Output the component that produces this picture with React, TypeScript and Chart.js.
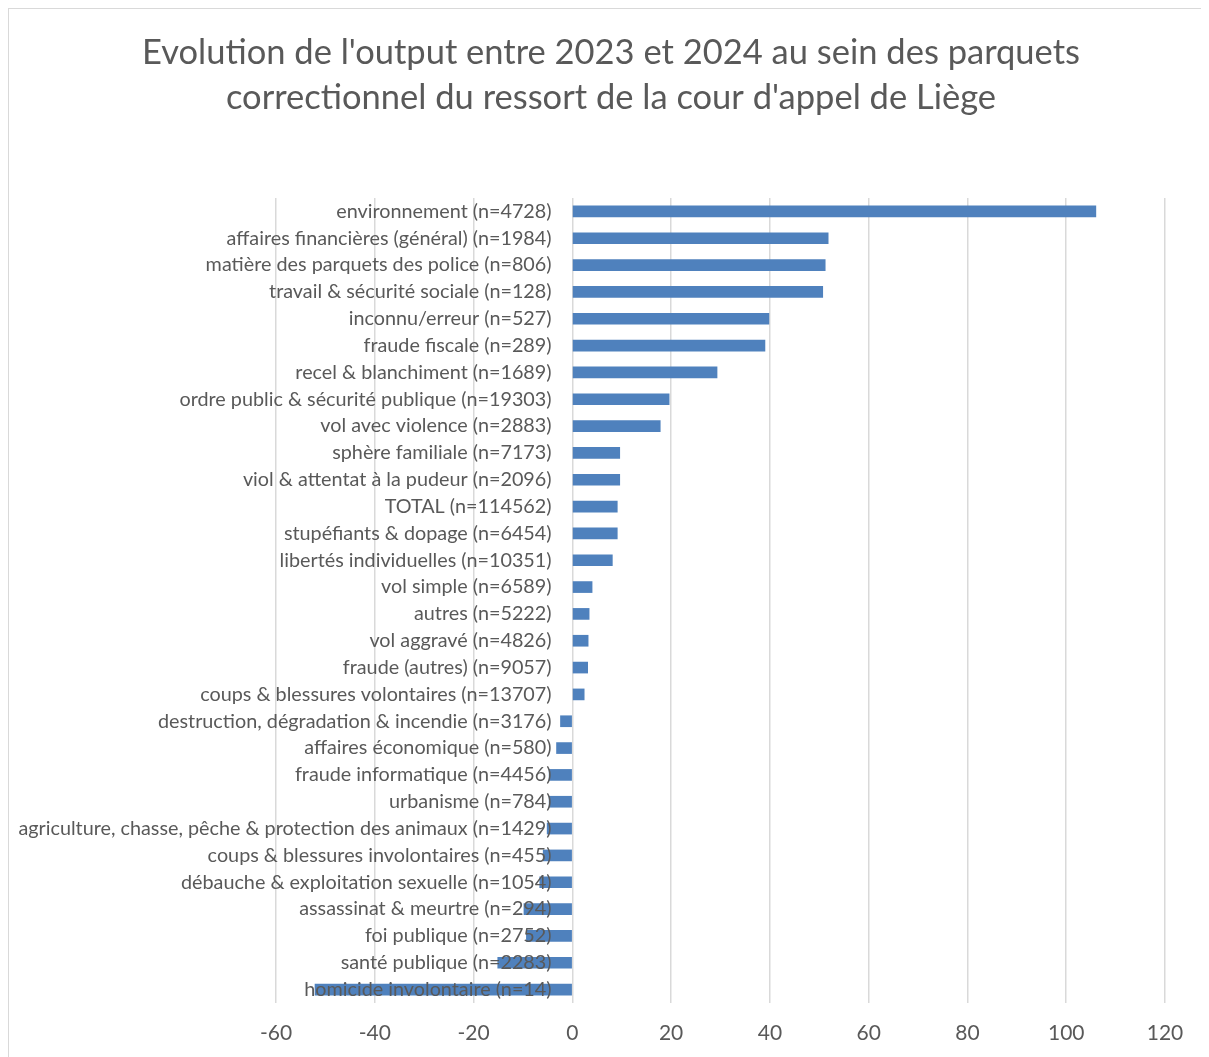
import React, { useEffect, useRef } from "react";
import { Chart, registerables } from "chart.js";

Chart.register(...registerables);

const titleLines = [
  "Evolution de l'output entre 2023 et 2024 au sein des parquets",
  "correctionnel du ressort de la cour d'appel de Liège",
];

const categories = [
  "environnement (n=4728)",
  "affaires financières (général) (n=1984)",
  "matière des parquets des police (n=806)",
  "travail & sécurité sociale (n=128)",
  "inconnu/erreur (n=527)",
  "fraude fiscale (n=289)",
  "recel & blanchiment (n=1689)",
  "ordre public & sécurité publique (n=19303)",
  "vol avec violence (n=2883)",
  "sphère familiale (n=7173)",
  "viol & attentat à la pudeur (n=2096)",
  "TOTAL (n=114562)",
  "stupéfiants & dopage (n=6454)",
  "libertés individuelles (n=10351)",
  "vol simple (n=6589)",
  "autres (n=5222)",
  "vol aggravé (n=4826)",
  "fraude (autres) (n=9057)",
  "coups & blessures volontaires (n=13707)",
  "destruction, dégradation & incendie (n=3176)",
  "affaires économique (n=580)",
  "fraude informatique (n=4456)",
  "urbanisme (n=784)",
  "agriculture, chasse, pêche & protection des animaux (n=1429)",
  "coups & blessures involontaires (n=455)",
  "débauche & exploitation sexuelle (n=1054)",
  "assassinat & meurtre (n=294)",
  "foi publique (n=2752)",
  "santé publique (n=2283)",
  "homicide involontaire (n=14)",
];

const evolution = [
  106.0, 51.8, 51.2, 50.7, 39.8, 39.0, 29.3, 19.6, 17.8, 9.6, 9.6, 9.1, 9.1,
  8.1, 4.0, 3.4, 3.2, 3.1, 2.4, -2.4, -3.2, -4.7, -4.7, -5.1, -5.9, -6.6,
  -9.8, -9.3, -15.1, -52.1,
];

const xMin = -60;
const xMax = 120;
const xStep = 20;
const labelAnchor = -4.2; // category labels sit just left of the zero line

const FONT = "Lato";
const GREY = "#595959";

export default function App() {
  const ref = useRef<HTMLCanvasElement | null>(null);

  useEffect(() => {
    if (!ref.current) return;
    const chart = new Chart(ref.current, {
      type: "bar",
      data: {
        labels: categories,
        datasets: [
          {
            data: evolution,
            backgroundColor: "#4F81BD",
            borderWidth: 0,
            barThickness: 11,
          },
        ],
      },
      options: {
        indexAxis: "y",
        responsive: false,
        animation: false,
        layout: { padding: { left: 5, right: 0, top: 0, bottom: 0 } },
        plugins: {
          legend: { display: false },
          tooltip: { enabled: false },
          title: {
            display: true,
            text: titleLines,
            color: GREY,
            font: { family: FONT, size: 34.5, weight: "normal", lineHeight: 1.304 },
            padding: { top: 22.5, bottom: 77.5 },
          },
        },
        scales: {
          x: {
            min: xMin,
            max: xMax,
            ticks: {
              stepSize: xStep,
              color: GREY,
              font: { family: FONT, size: 21 },
              padding: 18,
            },
            grid: { color: "#D9D9D9", lineWidth: 1.5, drawTicks: false },
            border: { display: false },
            afterFit: (s: any) => {
              s.height = 54;
            },
          } as any,
          y: {
            position: { x: labelAnchor } as any,
            grid: { display: false },
            border: { display: false },
            ticks: {
              z: 1,
              color: GREY,
              font: { family: FONT, size: 19.8 },
              autoSkip: false,
              padding: 0,
            },
          },
          yLeftSpace: {
            type: "category",
            position: "left",
            grid: { display: false, drawTicks: false },
            border: { display: false },
            ticks: { display: false },
            afterFit: (s: any) => {
              s.width = 263;
            },
          } as any,
          yRightSpace: {
            type: "category",
            position: "right",
            grid: { display: false, drawTicks: false },
            border: { display: false },
            ticks: { display: false },
            afterFit: (s: any) => {
              s.width = 44;
            },
          } as any,
        },
      },
    });
    return () => chart.destroy();
  }, []);

  return (
    <div style={{ position: "relative", width: 1201, height: 1049 }}>
      <canvas ref={ref} width={1201} height={1049} style={{ display: "block" }} />
      <div
        style={{
          position: "absolute",
          left: 0,
          top: 0,
          width: 1201,
          height: 1049,
          boxSizing: "border-box",
          borderTop: "1px solid #D9D9D9",
          borderLeft: "1px solid #D9D9D9",
          borderRight: "1px solid #D9D9D9",
          pointerEvents: "none",
        }}
      />
    </div>
  );
}
